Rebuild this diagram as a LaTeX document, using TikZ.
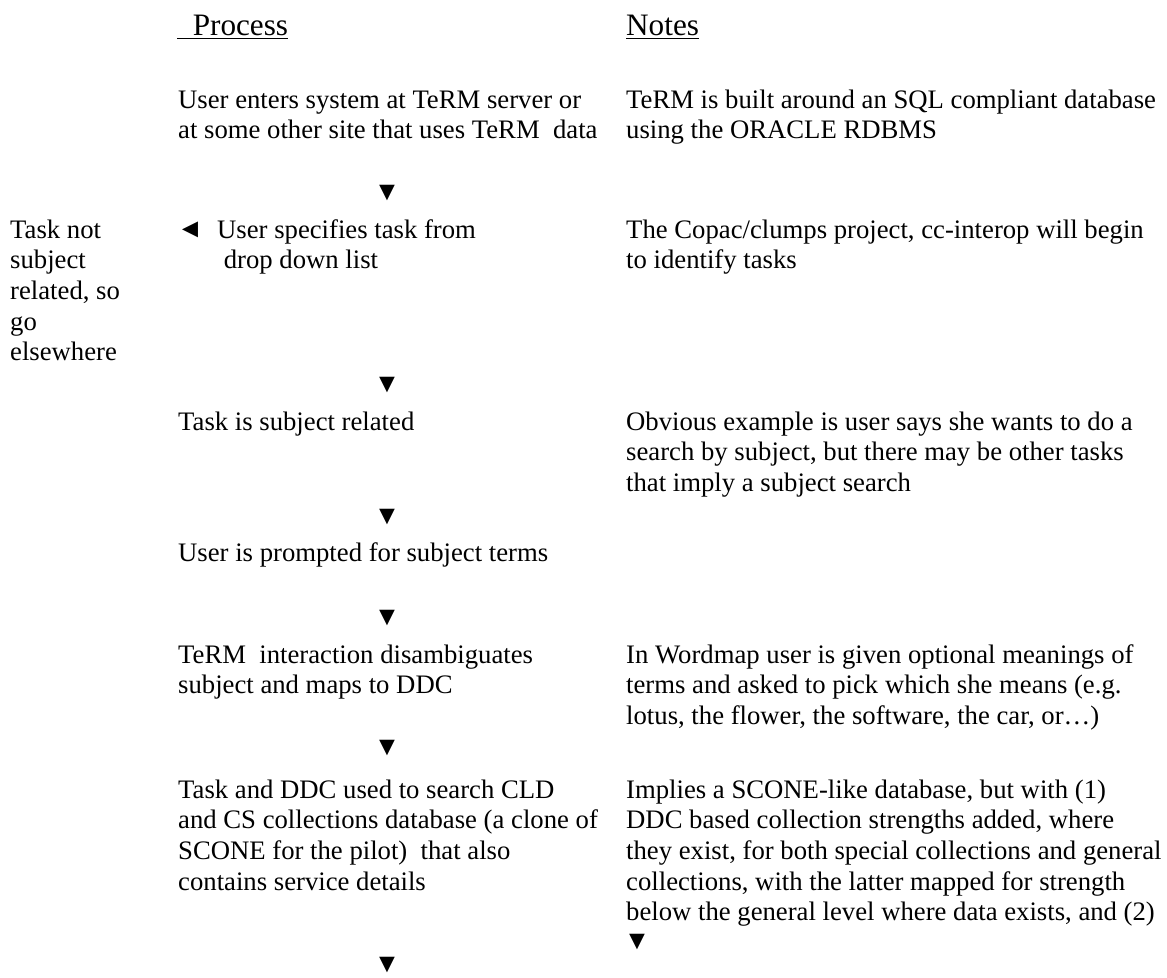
\documentclass[tikz,border=0pt]{standalone}
\usepackage{fontspec}
\setmainfont{Liberation Serif}
\newcommand\mylines[1]{\begin{tabular}[t]{@{}l@{}}#1\end{tabular}}
\begin{document}
\begin{tikzpicture}[x=1pt,y=-1pt,
 body/.style={font=\fontsize{26.7pt}{30.7pt}\selectfont, inner sep=0pt, anchor=base west},
 head/.style={font=\fontsize{31.2pt}{36pt}\selectfont, inner sep=0pt, anchor=base west},
 tri/.style={font=\fontsize{26.7pt}{30.7pt}\selectfont, inner sep=0pt},
 ul/.style={line width=1.6pt}]
\useasboundingbox (0,0) rectangle (1167,977);
\node[head] (proc) at (177,35) {\ \ Process};
\node[head] (notes) at (626,35) {Notes};
\draw[ul] ([yshift=-3.5pt]proc.base west) -- ([yshift=-3.5pt]proc.base east);
\draw[ul] ([yshift=-3.5pt]notes.base west) -- ([yshift=-3.5pt]notes.base east);

\node[body] (s1) at (178,108) {\mylines{User enters system at TeRM server or\\at some other site that uses TeRM\ \ data}};
\node[body] (n1) at (626,108) {\mylines{TeRM is built around an SQL compliant database\\using the ORACLE RDBMS}};
\node[tri] (a1) at (387,193) {▼};

\node[body] (side) at (10,238) {\mylines{Task not\\subject\\related, so\\go\\elsewhere}};
\node[tri] (back) at (190,230) {◄};
\node[body] (s2) at (217,238) {\mylines{User specifies task from\\\ drop down list}};
\node[body] (n2) at (626,238) {\mylines{The Copac/clumps project, cc-interop will begin\\to identify tasks}};
\node[tri] (a2) at (387,385) {▼};

\node[body] (s3) at (178,430) {Task is subject related};
\node[body] (n3) at (626,430) {\mylines{Obvious example is user says she wants to do a\\search by subject, but there may be other tasks\\that imply a subject search}};
\node[tri] (a3) at (387,517) {▼};

\node[body] (s4) at (178,561) {User is prompted for subject terms};
\node[tri] (a4) at (387,618) {▼};

\node[body] (s5) at (178,663) {\mylines{TeRM\ \ interaction disambiguates\\subject and maps to DDC}};
\node[body] (n5) at (626,663) {\mylines{In Wordmap user is given optional meanings of\\terms and asked to pick which she means (e.g.\\lotus, the flower, the software, the car, or…)}};
\node[tri] (a5) at (387,748) {▼};

\node[body] (s6) at (178,798) {\mylines{Task and DDC used to search CLD\\and CS collections database (a clone of\\SCONE for the pilot)\ \ that also\\contains service details}};
\node[body] (n6) at (626,798) {\mylines{Implies a SCONE-like database, but with (1)\\DDC based collection strengths added, where\\they exist, for both special collections and general\\collections, with the latter mapped for strength\\below the general level where data exists, and (2)}};
\node[tri] (a6) at (637,942) {▼};
\node[tri] (a7) at (387,965) {▼};
\end{tikzpicture}
\end{document}
